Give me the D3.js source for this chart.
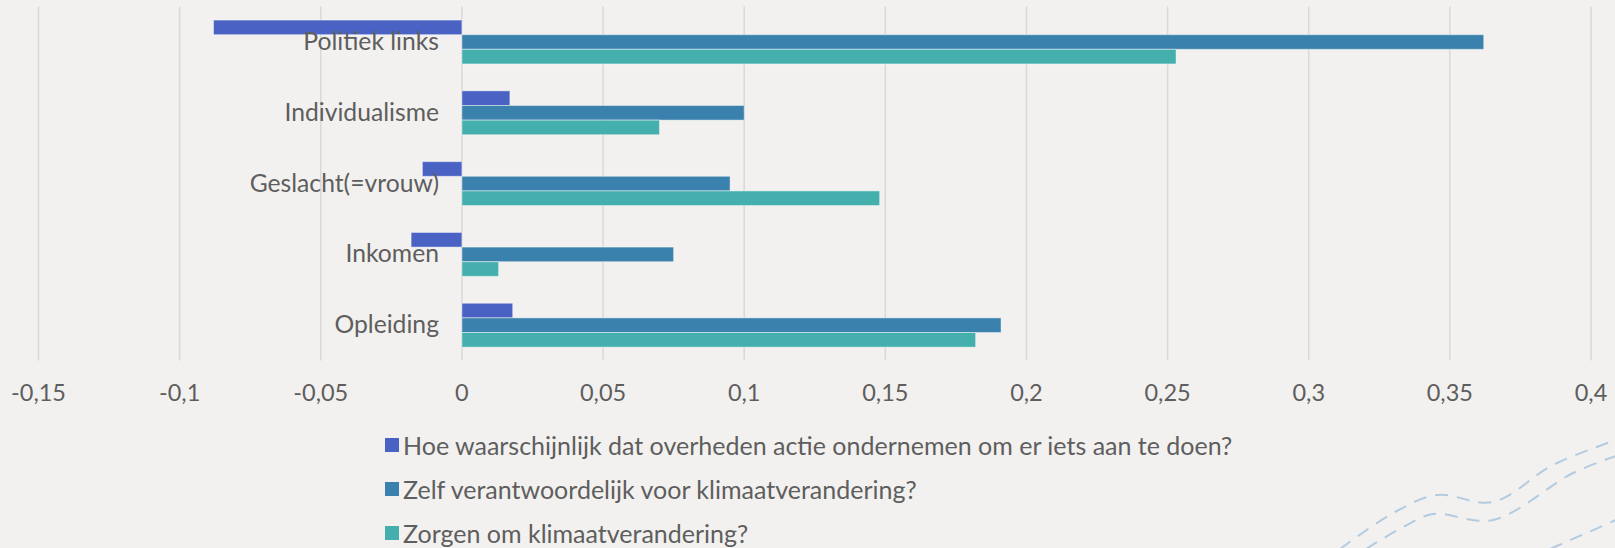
<!DOCTYPE html>
<html>
<head>
<meta charset="utf-8">
<script src="https://cdn.jsdelivr.net/npm/d3@7"></script>
<style>
  html, body { margin: 0; padding: 0; background: #f2f1ef; }
  svg { display: block; }
  text { font-family: Lato, "Noto Sans", sans-serif; fill: #5e5e5e; }
</style>
</head>
<body>
<div id="chart"></div>
<script>
// categories, top to bottom
const categories = ["Politiek links", "Individualisme", "Geslacht(=vrouw)", "Inkomen", "Opleiding"];

const seriesNames = [
	"Hoe waarschijnlijk dat overheden actie ondernemen om er iets aan te doen?",
	"Zelf verantwoordelijk voor klimaatverandering?",
	"Zorgen om klimaatverandering?"
];

// values per series, same order as categories
const overheid = [-0.088, 0.017, -0.014, -0.018, 0.018];
const zelf = [0.362, 0.100, 0.095, 0.075, 0.191];
const zorgen = [0.253, 0.070, 0.148, 0.013, 0.182];

const tickValues = [-0.15, -0.1, -0.05, 0, 0.05, 0.1, 0.15, 0.2, 0.25, 0.3, 0.35, 0.4];
const colors = ["#4a62c4", "#3b81ae", "#45afad"];

// decorative dashed waves, bottom right corner (pixel points)
const waves = [
	[[1340, 549], [1395, 512], [1437, 495], [1493, 502], [1553, 465], [1616, 440]],
	[[1366, 549], [1405, 526], [1433, 514], [1493, 520], [1573, 473], [1616, 456]],
	[[1550, 549], [1616, 520]]
];

const width = 1615, height = 548;

const svg = d3.select("#chart")
	.append("svg")
	.attr("width", width)
	.attr("height", height);

svg.append("rect")
	.attr("width", width)
	.attr("height", height)
	.attr("fill", "#f2f1ef");

// scales
const x = d3.scaleLinear()
	.domain([-0.15, 0.4])
	.range([38.5, 1591]);

const y = d3.scaleBand()
	.domain(categories)
	.range([6.6, 360.6])
	.paddingInner(0.38)
	.paddingOuter(0.19);

const ySub = d3.scaleBand()
	.domain(d3.range(seriesNames.length))
	.range([0, y.bandwidth()]);

// gridlines
svg.append("g")
	.selectAll("line")
	.data(tickValues)
	.join("line")
	.attr("x1", d => x(d))
	.attr("x2", d => x(d))
	.attr("y1", 6.6)
	.attr("y2", 360.6)
	.attr("stroke", "#d9d9d9")
	.attr("stroke-width", 1.5);

// x axis labels
svg.append("g")
	.selectAll("text")
	.data(tickValues)
	.join("text")
	.attr("x", d => x(d))
	.attr("y", 392)
	.attr("text-anchor", "middle")
	.attr("dominant-baseline", "central")
	.style("font-size", "23.5px")
	.text(d => String(d).replace(".", ","));

// bars
const allSeries = [overheid, zelf, zorgen];
const rows = [];
allSeries.forEach((vals, s) => {
	vals.forEach((v, i) => rows.push({ cat: categories[i], s: s, v: v }));
});

svg.append("g")
	.selectAll("rect")
	.data(rows)
	.join("rect")
	.attr("x", d => x(Math.min(0, d.v)))
	.attr("width", d => Math.abs(x(d.v) - x(0)))
	.attr("y", d => y(d.cat) + ySub(d.s))
	.attr("height", ySub.bandwidth())
	.attr("fill", d => colors[d.s])
	.attr("stroke", "#ffffff")
	.attr("stroke-opacity", 0.45)
	.attr("stroke-width", 1);

// category labels
svg.append("g")
	.selectAll("text")
	.data(categories)
	.join("text")
	.attr("x", 439)
	.attr("y", d => y(d) + y.bandwidth() / 2 - 1.5)
	.attr("text-anchor", "end")
	.attr("dominant-baseline", "central")
	.style("font-size", "24.7px")
	.text(d => d);

// legend
const legend = svg.append("g")
	.attr("transform", "translate(385, 445)");

seriesNames.forEach((name, i) => {
	legend.append("rect")
		.attr("x", 0)
		.attr("y", i * 44 - 7)
		.attr("width", 14)
		.attr("height", 14)
		.attr("fill", colors[i]);
	legend.append("text")
		.attr("x", 18)
		.attr("y", i * 44)
		.attr("dominant-baseline", "central")
		.style("font-size", "25px")
		.text(name);
});

// dashed waves
svg.append("g")
	.selectAll("path")
	.data(waves)
	.join("path")
	.attr("d", d3.line().curve(d3.curveCatmullRom))
	.attr("fill", "none")
	.attr("stroke", "#b3cbe0")
	.attr("stroke-width", 2)
	.attr("stroke-dasharray", "13,9");
</script>
</body>
</html>
